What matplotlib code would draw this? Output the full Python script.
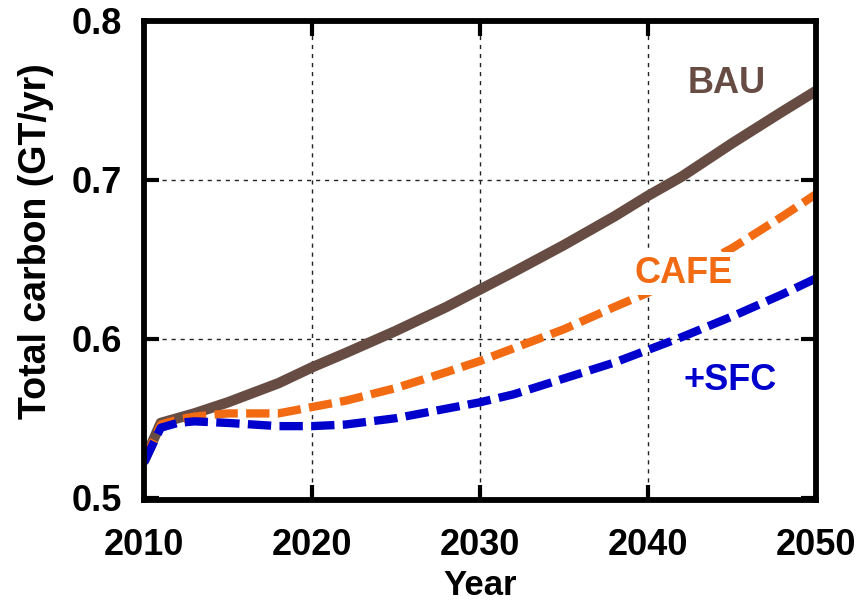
import matplotlib
matplotlib.use("Agg")
import matplotlib.pyplot as plt

plt.rcParams['font.family'] = ['Liberation Sans', 'DejaVu Sans']
plt.rcParams['font.weight'] = 'bold'

years = [2010, 2011, 2012, 2013, 2015, 2018, 2020, 2022, 2025, 2028, 2030,
         2032, 2035, 2038, 2040, 2042, 2045, 2048, 2050]
bau = [0.523, 0.547, 0.550, 0.553, 0.560, 0.572, 0.582, 0.591, 0.605, 0.620,
       0.631, 0.642, 0.659, 0.677, 0.690, 0.702, 0.723, 0.743, 0.756]
cafe = [0.523, 0.546, 0.549, 0.551, 0.553, 0.553, 0.557, 0.561, 0.569, 0.579,
        0.586, 0.594, 0.606, 0.620, 0.629, 0.640, 0.657, 0.677, 0.691]
sfc = [0.522, 0.544, 0.547, 0.548, 0.547, 0.545, 0.545, 0.546, 0.550, 0.556,
       0.560, 0.565, 0.575, 0.585, 0.593, 0.601, 0.614, 0.628, 0.638]

series_labels = ["BAU", "CAFE", "+SFC"]
label_pos = [(2044.70, 0.7547), (2042.14, 0.6351), (2044.88, 0.5677)]

x_ticks = [2010, 2020, 2030, 2040, 2050]
y_ticks = [0.5, 0.6, 0.7, 0.8]

c_bau = "#674c43"
c_cafe = "#f26a12"
c_sfc = "#0000cc"

fig = plt.figure(figsize=(8.64, 6.06), dpi=100)
ax = fig.add_axes([144 / 864, (606 - 500) / 606, 672 / 864, 479 / 606])

ax.plot(years, bau, color=c_bau, lw=7.5, solid_capstyle='butt', zorder=3)
ax.plot(years, cafe, color=c_cafe, lw=6, linestyle=(0, (2.8, 1.0)),
        dash_capstyle='butt', zorder=4)
ax.plot(years, sfc, color=c_sfc, lw=6, linestyle=(0, (2.8, 1.0)),
        dash_capstyle='butt', zorder=5)

for text, color, (lx, ly) in zip(series_labels, [c_bau, c_cafe, c_sfc], label_pos):
    t = ax.text(lx, ly, text, color=color, fontsize=26, fontweight='bold',
                ha='center', va='baseline', zorder=6)
    if text == "CAFE":
        t.set_bbox(dict(boxstyle='square,pad=0.12', facecolor='white',
                        edgecolor='none'))

ax.set_xlim(2010, 2050)
ax.set_ylim(0.4985, 0.8)
ax.set_xticks(x_ticks)
ax.set_yticks(y_ticks)
ax.set_yticklabels([f"{v:.1f}" for v in y_ticks])

ax.grid(True, color='#222222', lw=1.0, linestyle=(0, (3, 3.5)), zorder=1)
ax.set_axisbelow(True)

for sp in ax.spines.values():
    sp.set_linewidth(4.2)
    sp.set_zorder(7)

ax.tick_params(direction='in', length=11, width=3, top=True, right=True,
               labelsize=26)
ax.tick_params(axis='x', pad=20)
ax.tick_params(axis='y', pad=16)
for lbl in ax.get_xticklabels() + ax.get_yticklabels():
    lbl.set_fontweight('bold')

ax.set_xlabel("Year", fontsize=25, fontweight='bold', va='center')
ax.xaxis.set_label_coords(0.5, -0.1775)
ax.set_ylabel("Total carbon (GT/yr)", fontsize=27, fontweight='bold', va='center')
ax.yaxis.set_label_coords(-0.1607, 0.541)

fig.savefig("out.png", dpi=100)
